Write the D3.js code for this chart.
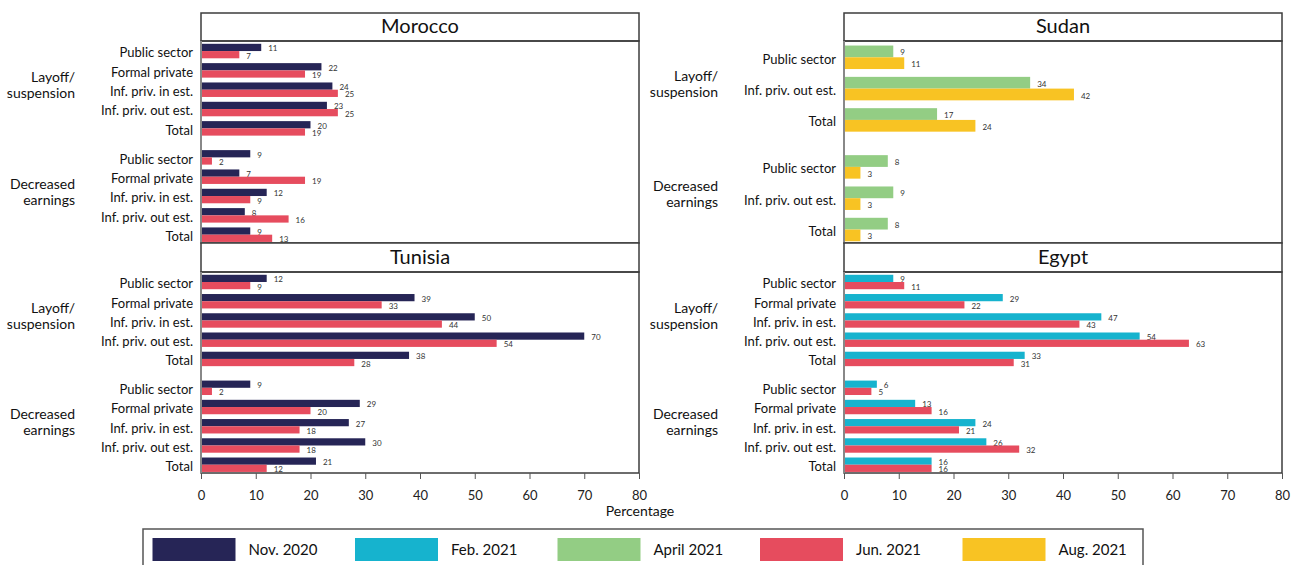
<!DOCTYPE html>
<html>
<head>
<meta charset="utf-8">
<script src="https://cdn.jsdelivr.net/npm/d3@7"></script>
<style>
  html, body { margin: 0; padding: 0; background: #fff; }
  svg { display: block; font-family: Lato, "Open Sans", sans-serif; }
</style>
</head>
<body>
<svg id="chart" width="1298" height="565"></svg>
<script>
// Sector rows, group labels and survey rounds
const sectorsFull = ["Public sector", "Formal private", "Inf. priv. in est.", "Inf. priv. out est.", "Total"];
const sectorsSudan = ["Public sector", "Inf. priv. out est.", "Total"];
const groupLines = [["Layoff/", "suspension"], ["Decreased", "earnings"]];
const roundNames = ["Nov. 2020", "Feb. 2021", "April 2021", "Jun. 2021", "Aug. 2021"];
const xTicks = [0, 10, 20, 30, 40, 50, 60, 70, 80];
const axisTitle = "Percentage";

// Shares (%) per sector: first five = layoff/suspension, last five = decreased earnings
const moroccoNov2020 = [11, 22, 24, 23, 20, 9, 7, 12, 8, 9];
const moroccoJun2021 = [7, 19, 25, 25, 19, 2, 19, 9, 16, 13];
const tunisiaNov2020 = [12, 39, 50, 70, 38, 9, 29, 27, 30, 21];
const tunisiaJun2021 = [9, 33, 44, 54, 28, 2, 20, 18, 18, 12];
const egyptFeb2021 = [9, 29, 47, 54, 33, 6, 13, 24, 26, 16];
const egyptJun2021 = [11, 22, 43, 63, 31, 5, 16, 21, 32, 16];
// Sudan: three sectors per group
const sudanApr2021 = [9, 34, 17, 8, 9, 8];
const sudanAug2021 = [11, 42, 24, 3, 3, 3];

const panels = [
  { title: "Morocco", col: 0, row: 0, sectors: sectorsFull, series: [["Nov. 2020", moroccoNov2020], ["Jun. 2021", moroccoJun2021]] },
  { title: "Tunisia", col: 0, row: 1, sectors: sectorsFull, series: [["Nov. 2020", tunisiaNov2020], ["Jun. 2021", tunisiaJun2021]] },
  { title: "Sudan",   col: 1, row: 0, sectors: sectorsSudan, series: [["April 2021", sudanApr2021], ["Aug. 2021", sudanAug2021]] },
  { title: "Egypt",   col: 1, row: 1, sectors: sectorsFull, series: [["Feb. 2021", egyptFeb2021], ["Jun. 2021", egyptJun2021]] }
];

const color = d3.scaleOrdinal()
  .domain(roundNames)
  .range(["#262556", "#16b3ce", "#93cd84", "#e64c5e", "#f8c323"]);

const svg = d3.select("#chart");
const colX = [[201, 639], [844, 1282]];
const rowY = [{ t: 13, p: 41, b: 243 }, { t: 243, p: 272, b: 473 }];
const frame = "#3c3c3c";

panels.forEach(panel => {
  const [x0, x1] = colX[panel.col];
  const r = rowY[panel.row];
  const n = panel.sectors.length;
  const x = d3.scaleLinear().domain([0, 80]).range([x0, x1]);
  // slot index: group 1 at 0..n-1, group 2 after a 1.5-slot gap
  const y = d3.scaleLinear().domain([-0.52, 2 * n - 0.5 + 0.43]).range([r.p, r.b]);
  const slot = y(1) - y(0);
  const barH = slot * 0.375;
  const pos = i => (i < n ? i : i + 0.5);

  const g = svg.append("g");

  // title box
  g.append("rect").attr("x", x0).attr("y", r.t).attr("width", x1 - x0).attr("height", r.p - r.t)
    .attr("fill", "#fff").attr("stroke", frame).attr("stroke-width", 1.5);
  g.append("text").attr("x", (x0 + x1) / 2).attr("y", (r.t + r.p) / 2 + 1)
    .attr("text-anchor", "middle").attr("dominant-baseline", "middle")
    .attr("font-size", 20).attr("fill", "#111").text(panel.title);

  // bars
  panel.series.forEach(([name, vals], s) => {
    g.selectAll(null).data(vals).enter().append("rect")
      .attr("x", x(0))
      .attr("y", (d, i) => y(pos(i)) - barH + s * barH)
      .attr("width", d => x(d) - x(0))
      .attr("height", barH)
      .attr("fill", color(name));
    g.selectAll(null).data(vals).enter().append("text")
      .attr("x", d => x(d) + 7)
      .attr("y", (d, i) => y(pos(i)) - barH / 2 + s * barH + 2)
      .attr("dominant-baseline", "middle")
      .attr("font-size", 8).attr("fill", "#333")
      .text(d => d);
  });

  // plot frame
  g.append("rect").attr("x", x0).attr("y", r.p).attr("width", x1 - x0).attr("height", r.b - r.p)
    .attr("fill", "none").attr("stroke", frame).attr("stroke-width", 1.5);
  g.append("line").attr("x1", x0).attr("x2", x0).attr("y1", r.p).attr("y2", r.b)
    .attr("stroke", "#888").attr("stroke-width", 2);

  // sector labels
  const rows = panel.sectors.concat(panel.sectors);
  g.selectAll(null).data(rows).enter().append("text")
    .attr("x", x0 - 8)
    .attr("y", (d, i) => y(pos(i)) + 3)
    .attr("text-anchor", "end").attr("dominant-baseline", "middle")
    .attr("font-size", 13).attr("fill", "#111")
    .text(d => d);

  // group labels
  groupLines.forEach((lines, gi) => {
    const c = (y(pos(gi * n)) + y(pos(gi * n + n - 1))) / 2 - 3;
    g.append("text").attr("x", x0 - 126).attr("y", c)
      .attr("text-anchor", "end").attr("font-size", 14).attr("fill", "#111")
      .selectAll("tspan").data(lines).enter().append("tspan")
      .attr("x", x0 - 126)
      .attr("y", (d, k) => c + (k - 0.5) * 16)
      .attr("dominant-baseline", "middle")
      .text(d => d);
  });

  // x axis on the bottom row
  if (panel.row === 1) {
    const ax = g.append("g").attr("transform", `translate(0,${r.b})`)
      .call(d3.axisBottom(x).tickValues(xTicks).tickSize(6).tickPadding(12).tickSizeOuter(0));
    ax.select(".domain").remove();
    ax.selectAll(".tick line").attr("stroke", "#555");
    ax.selectAll(".tick text").attr("font-size", 13).attr("fill", "#222")
      .attr("font-family", "Lato, 'Open Sans', sans-serif");
  }
});

svg.append("text").attr("x", 640).attr("y", 512)
  .attr("text-anchor", "middle").attr("dominant-baseline", "middle")
  .attr("font-size", 14).attr("fill", "#111").text(axisTitle);

// legend
const lg = svg.append("g");
lg.append("rect").attr("x", 143).attr("y", 529).attr("width", 1000).attr("height", 60)
  .attr("fill", "#fff").attr("stroke", "#555").attr("stroke-width", 1.5);
const lx = d3.scaleLinear().domain([0, roundNames.length - 1]).range([152.5, 962.5]);
roundNames.forEach((name, i) => {
  lg.append("rect").attr("x", lx(i)).attr("y", 538).attr("width", 83).attr("height", 23)
    .attr("fill", color(name));
  lg.append("text").attr("x", lx(i) + 96).attr("y", 551)
    .attr("dominant-baseline", "middle").attr("font-size", 15).attr("fill", "#111")
    .text(name);
});
</script>
</body>
</html>
